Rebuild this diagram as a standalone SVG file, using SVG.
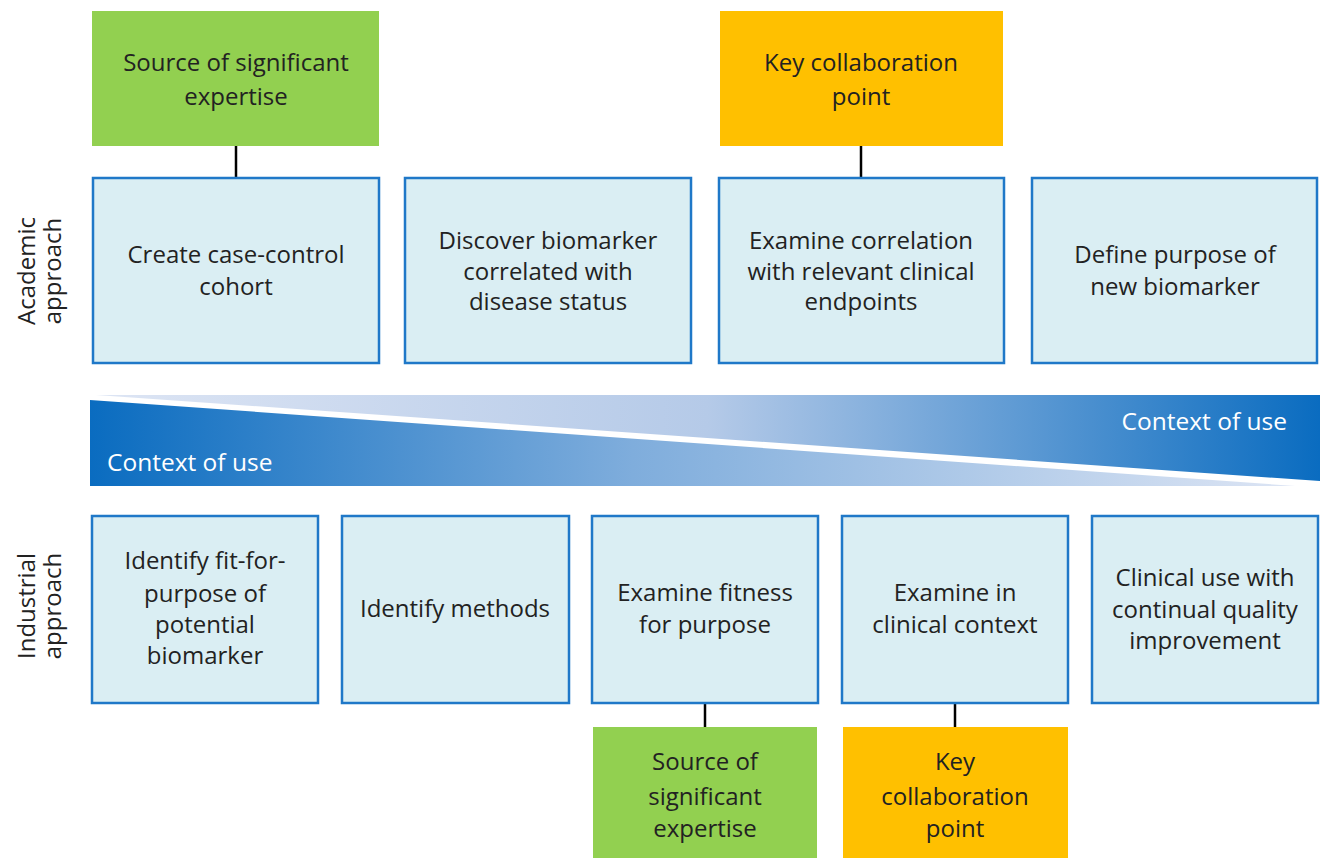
<svg xmlns="http://www.w3.org/2000/svg" width="1323" height="858" viewBox="0 0 1323 858">
<defs>
<linearGradient id="gLow" x1="0" y1="0" x2="1" y2="0">
<stop offset="0" stop-color="#0A6CC0"/>
<stop offset="0.45" stop-color="#7FADDC"/>
<stop offset="1" stop-color="#DDE5F4"/>
</linearGradient>
<linearGradient id="gUp" x1="0" y1="0" x2="1" y2="0">
<stop offset="0" stop-color="#DDE5F4"/>
<stop offset="0.5" stop-color="#B5CAE8"/>
<stop offset="1" stop-color="#0A6CC0"/>
</linearGradient>
</defs>
<style>
.box{fill:#DAEEF3;stroke:#1F78C8;stroke-width:2.5}
.green{fill:#92D050}
.orange{fill:#FFC000}
.t{font-family:"Open Sans","Liberation Sans",Arial,sans-serif;font-size:24px;fill:#222;text-anchor:middle}
.side{font-family:"Open Sans","Liberation Sans",Arial,sans-serif;font-size:24px;fill:#222;text-anchor:middle}
.cu{font-family:"Open Sans","Liberation Sans",Arial,sans-serif;font-size:24.5px;fill:#fff}
.ln{stroke:#000;stroke-width:2.5;fill:none}
</style>
<rect width="1323" height="858" fill="#fff"/>
<g id="labels">
<text class="side" transform="translate(0,271) rotate(-90)"><tspan x="0" y="35">Academic</tspan><tspan x="0" y="61">approach</tspan></text>
<text class="side" transform="translate(0,606) rotate(-90)"><tspan x="0" y="35">Industrial</tspan><tspan x="0" y="61">approach</tspan></text>
</g>
<g id="band">
<polygon points="96,395 1320,395 1320,481" fill="url(#gUp)"/>
<polygon points="90,400 90,486 1295,486" fill="url(#gLow)"/>
<text class="cu" x="107" y="471">Context of use</text>
<text class="cu" x="1287" y="430" text-anchor="end">Context of use</text>
</g>
<g id="connectors">
<line class="ln" x1="236" y1="146" x2="236" y2="178"/>
<line class="ln" x1="861" y1="146" x2="861" y2="178"/>
<line class="ln" x1="705" y1="703" x2="705" y2="727"/>
<line class="ln" x1="955" y1="703" x2="955" y2="727"/>
</g>
<g id="top-green"><rect class="green" x="92" y="11" width="287" height="135"/><text class="t"><tspan x="236" y="71">Source of significant</tspan><tspan x="236" y="105">expertise</tspan></text></g>
<g id="top-orange"><rect class="orange" x="720" y="11" width="283" height="135"/><text class="t"><tspan x="861" y="71">Key collaboration</tspan><tspan x="861" y="105">point</tspan></text></g>
<g id="a1"><rect class="box" x="93" y="178" width="286" height="185"/><text class="t"><tspan x="236" y="263">Create case-control</tspan><tspan x="236" y="295">cohort</tspan></text></g>
<g id="a2"><rect class="box" x="405" y="178" width="286" height="185"/><text class="t"><tspan x="548" y="249">Discover biomarker</tspan><tspan x="548" y="280">correlated with</tspan><tspan x="548" y="310">disease status</tspan></text></g>
<g id="a3"><rect class="box" x="719" y="178" width="285" height="185"/><text class="t"><tspan x="861" y="249">Examine correlation</tspan><tspan x="861" y="280">with relevant clinical</tspan><tspan x="861" y="310">endpoints</tspan></text></g>
<g id="a4"><rect class="box" x="1032" y="178" width="285" height="185"/><text class="t"><tspan x="1175" y="263">Define purpose of</tspan><tspan x="1175" y="295">new biomarker</tspan></text></g>
<g id="i1"><rect class="box" x="92" y="516" width="226" height="187"/><text class="t"><tspan x="205" y="569">Identify fit-for-</tspan><tspan x="205" y="602">purpose of</tspan><tspan x="205" y="633">potential</tspan><tspan x="205" y="664">biomarker</tspan></text></g>
<g id="i2"><rect class="box" x="342" y="516" width="227" height="187"/><text class="t"><tspan x="455" y="617">Identify methods</tspan></text></g>
<g id="i3"><rect class="box" x="592" y="516" width="226" height="187"/><text class="t"><tspan x="705" y="601">Examine fitness</tspan><tspan x="705" y="633">for purpose</tspan></text></g>
<g id="i4"><rect class="box" x="842" y="516" width="226" height="187"/><text class="t"><tspan x="955" y="601">Examine in</tspan><tspan x="955" y="633">clinical context</tspan></text></g>
<g id="i5"><rect class="box" x="1092" y="516" width="226" height="187"/><text class="t"><tspan x="1205" y="586">Clinical use with</tspan><tspan x="1205" y="618">continual quality</tspan><tspan x="1205" y="649">improvement</tspan></text></g>
<g id="bottom-green"><rect class="green" x="593" y="727" width="224" height="131"/><text class="t"><tspan x="705" y="770">Source of</tspan><tspan x="705" y="805">significant</tspan><tspan x="705" y="837">expertise</tspan></text></g>
<g id="bottom-orange"><rect class="orange" x="843" y="727" width="225" height="131"/><text class="t"><tspan x="955" y="770">Key</tspan><tspan x="955" y="805">collaboration</tspan><tspan x="955" y="837">point</tspan></text></g>
</svg>
